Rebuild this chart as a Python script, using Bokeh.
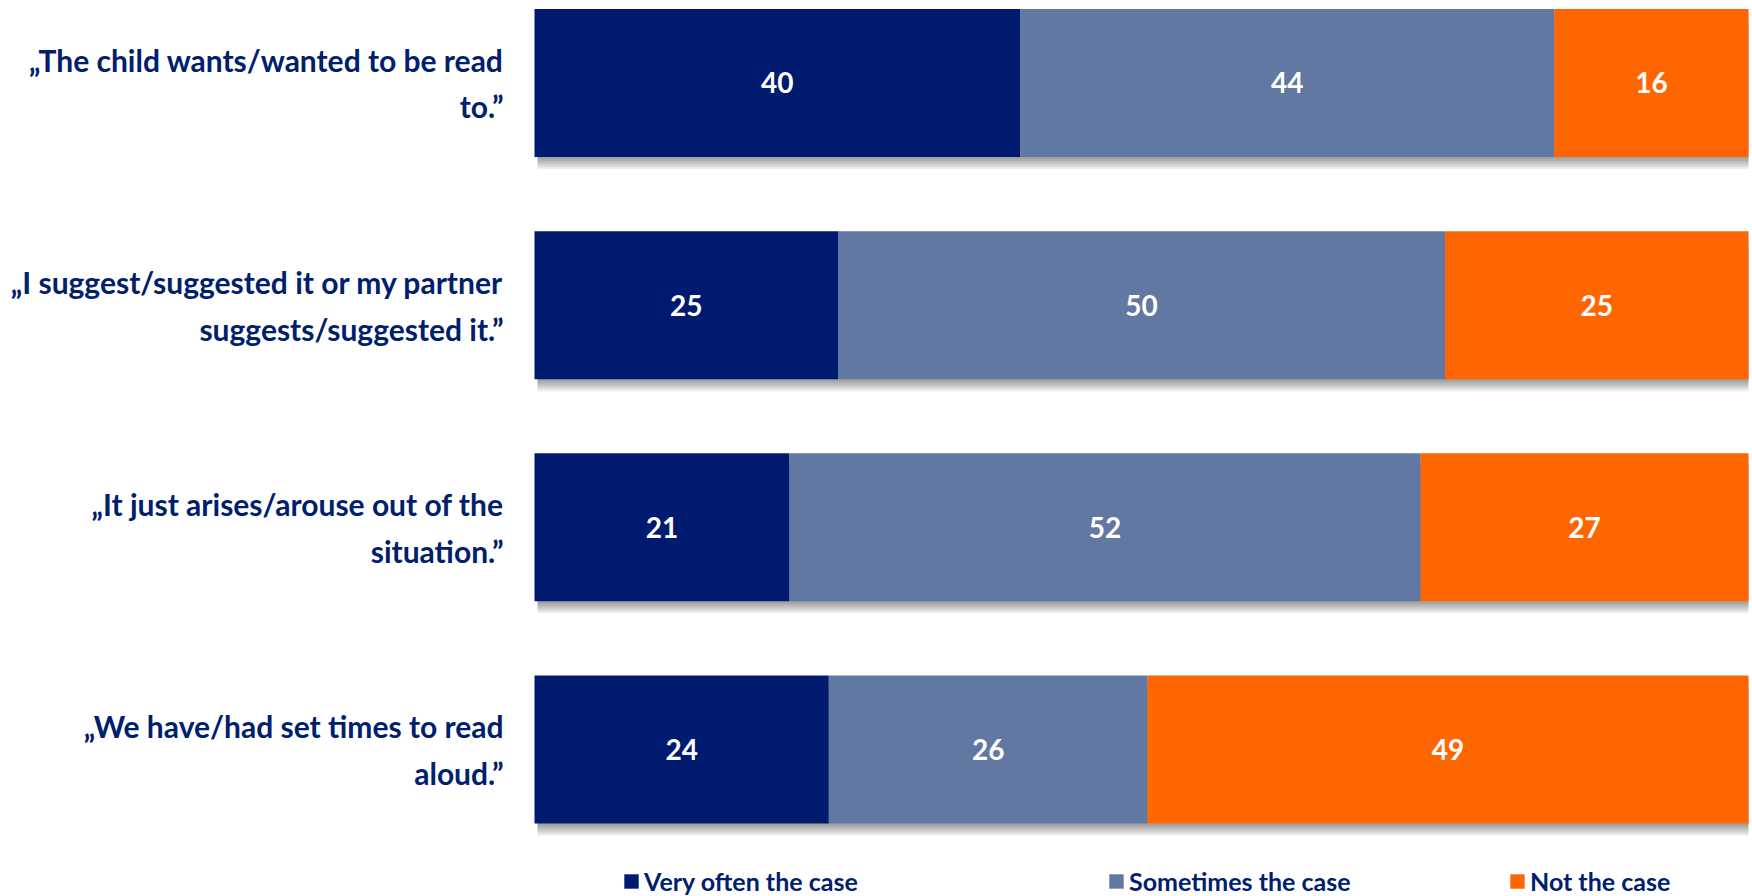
from bokeh.plotting import figure
from bokeh.models import ColumnDataSource, Range1d, Legend, LegendItem
from bokeh.transform import dodge
from bokeh.core.properties import value
from bokeh.embed import file_html
from bokeh.resources import INLINE

# ---------------- data ----------------
categories = [
    "\u201eThe child wants/wanted to be read\nto.\u201d",
    "\u201eI suggest/suggested it or my partner\nsuggests/suggested it.\u201d",
    "\u201eIt just arises/arouse out of the\nsituation.\u201d",
    "\u201eWe have/had set times to read\naloud.\u201d",
]
series_names = ["Very often the case", "Sometimes the case", "Not the case"]
very_often = [40, 25, 21, 24]
sometimes = [44, 50, 52, 26]
not_case = [16, 25, 27, 49]

colors = ["#001A70", "#6078A2", "#FF6600"]
navy_text = "#00206E"
FONT = "Lato"

# ---------------- geometry (styling) ----------------
W, H = 1752, 896
BAR_LEFT_PX = 534
BAR_W_PX = 1214
PITCH = 222.2
TOP_CENTER_PX = 82.5
BOTTOM_CENTER_PX = 749
BAR_H = 148 / PITCH
x_per_px = 100.0 / BAR_W_PX
x_start = -BAR_LEFT_PX * x_per_px
x_end = 100 + (W - BAR_LEFT_PX - BAR_W_PX) * x_per_px
n = len(categories)
y_start = 0 - (H - BOTTOM_CENTER_PX) / PITCH
y_end = (n - 1) + TOP_CENTER_PX / PITCH

# ---------------- derived (100% stacked) ----------------
ys = [n - 1 - i for i in range(n)]
totals = [a + b + c for a, b, c in zip(very_often, sometimes, not_case)]
pv = [a / t * 100 for a, t in zip(very_often, totals)]
ps = [b / t * 100 for b, t in zip(sometimes, totals)]
pn = [c / t * 100 for c, t in zip(not_case, totals)]

src = ColumnDataSource(dict(y=ys, label=categories, v=pv, s=ps, nn=pn,
                            full=[a + b + c for a, b, c in zip(pv, ps, pn)]))

p = figure(width=W, height=H, x_range=Range1d(x_start, x_end),
           y_range=Range1d(y_start, y_end), output_backend="svg",
           toolbar_location=None, min_border=0, x_axis_location=None,
           y_axis_location=None, outline_line_color=None,
           background_fill_color="white", border_fill_color="white")
p.grid.visible = False

# soft drop shadow
for k in [2, 4, 6, 8, 10, 12]:
    p.hbar(y=dodge("y", -k / PITCH), left=3 * x_per_px, right="full",
           height=BAR_H, source=src, fill_color="black", fill_alpha=0.07,
           line_color=None)

rs = p.hbar_stack(["v", "s", "nn"], y="y", height=BAR_H, color=colors,
                  line_color=None, source=src)

# category labels
p.text(x=-31 * x_per_px, y="y", text="label", source=src,
       text_align="right", text_baseline="middle", text_font=value(FONT),
       text_font_style="bold", text_font_size="30px", text_color=navy_text,
       text_line_height=1.3)

# value labels
vx, vy, vt = [], [], []
for i in range(n):
    left = 0
    for raw, pct in zip([very_often[i], sometimes[i], not_case[i]],
                        [pv[i], ps[i], pn[i]]):
        vx.append(left + pct / 2)
        vy.append(ys[i])
        vt.append(str(raw))
        left += pct
p.text(x="x", y="y", text="t", source=ColumnDataSource(dict(x=vx, y=vy, t=vt)),
       text_align="center", text_baseline="middle", text_font=value(FONT),
       text_font_style="bold", text_font_size="28px", text_color="white")

# legend (three separately placed items)
legend_x = [622, 1107, 1508]
for name, r, lx in zip(series_names, rs, legend_x):
    lg = Legend(items=[LegendItem(label=name, renderers=[r])],
                location=(lx, 0), orientation="horizontal",
                label_text_font=FONT, label_text_font_style="bold",
                label_text_font_size="25px", label_text_color=navy_text,
                glyph_width=18, glyph_height=18, label_standoff=4,
                padding=0, spacing=0, margin=0, border_line_alpha=0,
                background_fill_alpha=0)
    p.add_layout(lg, "center")

open("out.html", "w").write(file_html(p, INLINE))
